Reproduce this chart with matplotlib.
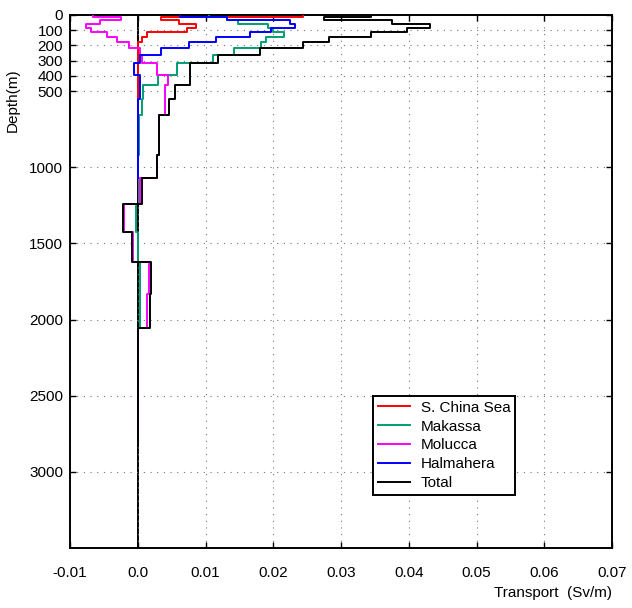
import numpy as np
import matplotlib.pyplot as plt

plt.rcParams['font.family'] = ['Liberation Sans', 'DejaVu Sans']

# layer boundaries (m)
depth = [0, 11, 33, 59, 85, 112, 143, 180, 219, 263, 318, 395, 458, 553, 658,
         921, 1072, 1243, 1428, 1625, 1829, 2053, 2800]

# transport per unit depth in each layer (Sv/m)
scs = [0.0244, 0.0034, 0.0061, 0.0086, 0.0072, 0.0013, 0.0007, 0.0001,
       0.0001, 0.0001, 0.0001, 0.0001, 0.0001, 0.0001, 0.0001, 0.0001]
makassa = [0.0105, 0.0131, 0.0148, 0.0192, 0.0200, 0.0216, 0.0189, 0.0182,
           0.0142, 0.0111, 0.0058, 0.0030, 0.0008, 0.0006, 0.0002, 0.0001,
           0.0002, -0.0002, 0.0000, 0.0003, 0.0003, 0.0000]
molucca = [-0.0066, -0.0024, -0.0056, -0.0077, -0.0069, -0.0046, -0.0030,
           -0.0013, 0.0003, 0.0007, 0.0028, 0.0044, 0.0040, 0.0040, 0.0032,
           0.0028, 0.0004, -0.0021, -0.0007, 0.0017, 0.0013, 0.0001]
halmahera = [0.0062, 0.0131, 0.0224, 0.0232, 0.0197, 0.0165, 0.0115, 0.0075,
             0.0035, 0.0003, -0.0006, 0.0003, 0.0003, 0.0001, 0.0001, 0.0001]
total = [0.0345, 0.0275, 0.0375, 0.0432, 0.0397, 0.0345, 0.0283, 0.0244,
         0.0180, 0.0118, 0.0077, 0.0077, 0.0055, 0.0046, 0.0032, 0.0028,
         0.0006, -0.0022, -0.0009, 0.0019, 0.0018, 0.0000]

names = ['S. China Sea', 'Makassa', 'Molucca', 'Halmahera', 'Total']
colors = ['#ff0000', '#009e73', '#ff00ff', '#0000ff', '#000000']

yticks = [0, 100, 200, 300, 400, 500, 1000, 1500, 2000, 2500, 3000]
xticks = [-0.01, 0.0, 0.01, 0.02, 0.03, 0.04, 0.05, 0.06, 0.07]
xlabels = ['-0.01', '0.0', '0.01', '0.02', '0.03', '0.04', '0.05', '0.06', '0.07']


def steps(vals):
    v = np.asarray(vals)
    z = np.asarray(depth[:len(v) + 1])
    x = np.repeat(v, 2)
    y = np.column_stack([z[:-1], z[1:]]).ravel()
    return x, y


fig = plt.figure(figsize=(6.32, 6.08), dpi=100)
ax = fig.add_axes([70 / 632, 1 - 548 / 608, 542 / 632, 533 / 608])

ax.axvline(0, color='k', lw=1.4, zorder=1)

for vals, name, c in zip([scs, makassa, molucca, halmahera, total], names, colors):
    x, y = steps(vals)
    ax.plot(x, y, color=c, lw=1.4, label=name, zorder=3)

ax.set_xlim(-0.01, 0.07)
ax.set_ylim(3500, 0)
ax.set_xticks(xticks)
ax.set_xticklabels(xlabels)
ax.set_yticks(yticks)

ax.grid(True, color='0.45', linestyle=(0, (1, 5)), lw=0.8)
ax.tick_params(direction='in', top=True, right=True, length=4, width=1,
               labelsize=11, colors='k')
ax.tick_params(axis='x', pad=13)
ax.tick_params(axis='y', pad=5)
for s in ax.spines.values():
    s.set_linewidth(1.4)

ax.set_xlabel('Transport  (Sv/m)', fontsize=11, loc='right', labelpad=4)
ax.set_ylabel('Depth(m)', fontsize=11)
ax.yaxis.set_label_coords(-0.092, 0.84)

leg = ax.legend(loc='upper left', bbox_to_anchor=(0.559, 0.285), borderaxespad=0,
                fontsize=11, fancybox=False, framealpha=1, edgecolor='k',
                handlelength=2.1, handletextpad=0.75, labelspacing=0.32,
                borderpad=0.3)
leg.get_frame().set_linewidth(1.4)

fig.savefig('out.png', dpi=100)
